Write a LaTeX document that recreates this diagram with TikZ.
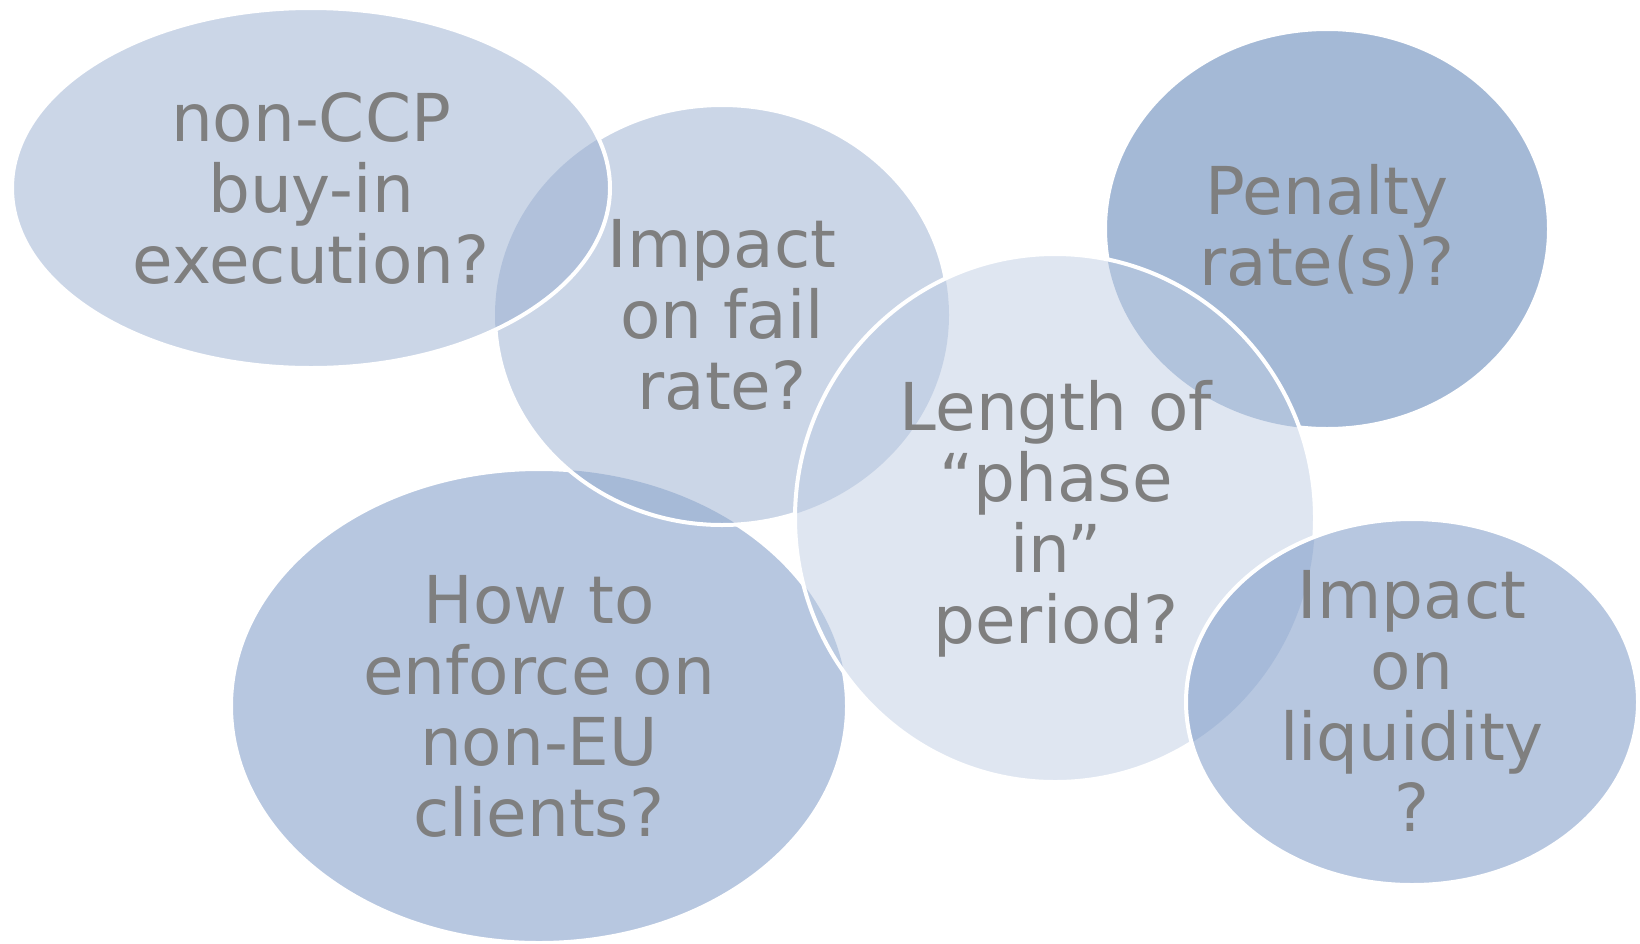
\documentclass[tikz,border=0pt]{standalone}
\usepackage{fontspec}
\setmainfont{DejaVu Sans}

\definecolor{paleblue}{RGB}{151,173,207}
\definecolor{midblue}{RGB}{111,143,193}
\definecolor{deepblue}{RGB}{73,115,173}
\definecolor{faintblue}{RGB}{191,205,227}
\definecolor{labelgrey}{RGB}{127,127,127}

% Outlines of the bubbles, used for fills and clips
\def\canvasrect{(-100,-100) rectangle (1740,1043)}
\def\ellhowto{(539,706) ellipse [x radius=308, y radius=237]}
\def\ellfail{(722,315) ellipse [x radius=227, y radius=210]}
\def\ellnoccp{(311,188) ellipse [x radius=299, y radius=180]}
\def\ellpenalty{(1327,229) ellipse [x radius=222, y radius=200]}
\def\ellphase{(1055,518) ellipse [x radius=260, y radius=264]}
\def\ellliquid{(1412,702) ellipse [x radius=226, y radius=183]}

\begin{document}
\begin{tikzpicture}[x=1pt, y=-1pt,
    rim/.style={draw=white, line width=4pt},
    tint/.style={fill=#1, fill opacity=0.5},
    question/.style={text=labelgrey, align=center, inner sep=0pt,
      font=\fontsize{66}{71}\selectfont}]

  \useasboundingbox (0,0) rectangle (1640,943);

  % Bubbles, back to front; a rim is hidden where a later bubble covers it
  \fill[tint=midblue] \ellhowto;
  \begin{scope}[even odd rule]
    \clip \canvasrect \ellfail;
    \clip \canvasrect \ellphase;
    \draw[rim] \ellhowto;
  \end{scope}

  \fill[tint=paleblue] \ellfail;
  \begin{scope}[even odd rule]
    \clip \canvasrect \ellnoccp;
    \clip \canvasrect \ellphase;
    \draw[rim] \ellfail;
  \end{scope}

  \fill[tint=paleblue] \ellnoccp;
  \draw[rim] \ellnoccp;

  \fill[tint=deepblue] \ellpenalty;
  \begin{scope}[even odd rule]
    \clip \canvasrect \ellphase;
    \draw[rim] \ellpenalty;
  \end{scope}

  \fill[tint=faintblue] \ellphase;
  \begin{scope}[even odd rule]
    \clip \canvasrect \ellliquid;
    \draw[rim] \ellphase;
  \end{scope}

  \fill[tint=midblue] \ellliquid;
  \draw[rim] \ellliquid;

  % Questions
  \node[question] (noccp) at (311,188) {non-CCP\\buy-in\\execution?};
  \node[question] (failrate) at (722,315) {Impact\\on fail\\rate?};
  \node[question] (penalty) at (1327,229) {Penalty\\rate(s)?};
  \node[question] (phasein) at (1056,519) {Length of\\“phase\\in”\\period?};
  \node[question] (howto) at (539,706) {How to\\enforce on\\non-EU\\clients?};
  \node[question] (liquidity) at (1412,701) {Impact\\on\\liquidity\\?};

\end{tikzpicture}
\end{document}
